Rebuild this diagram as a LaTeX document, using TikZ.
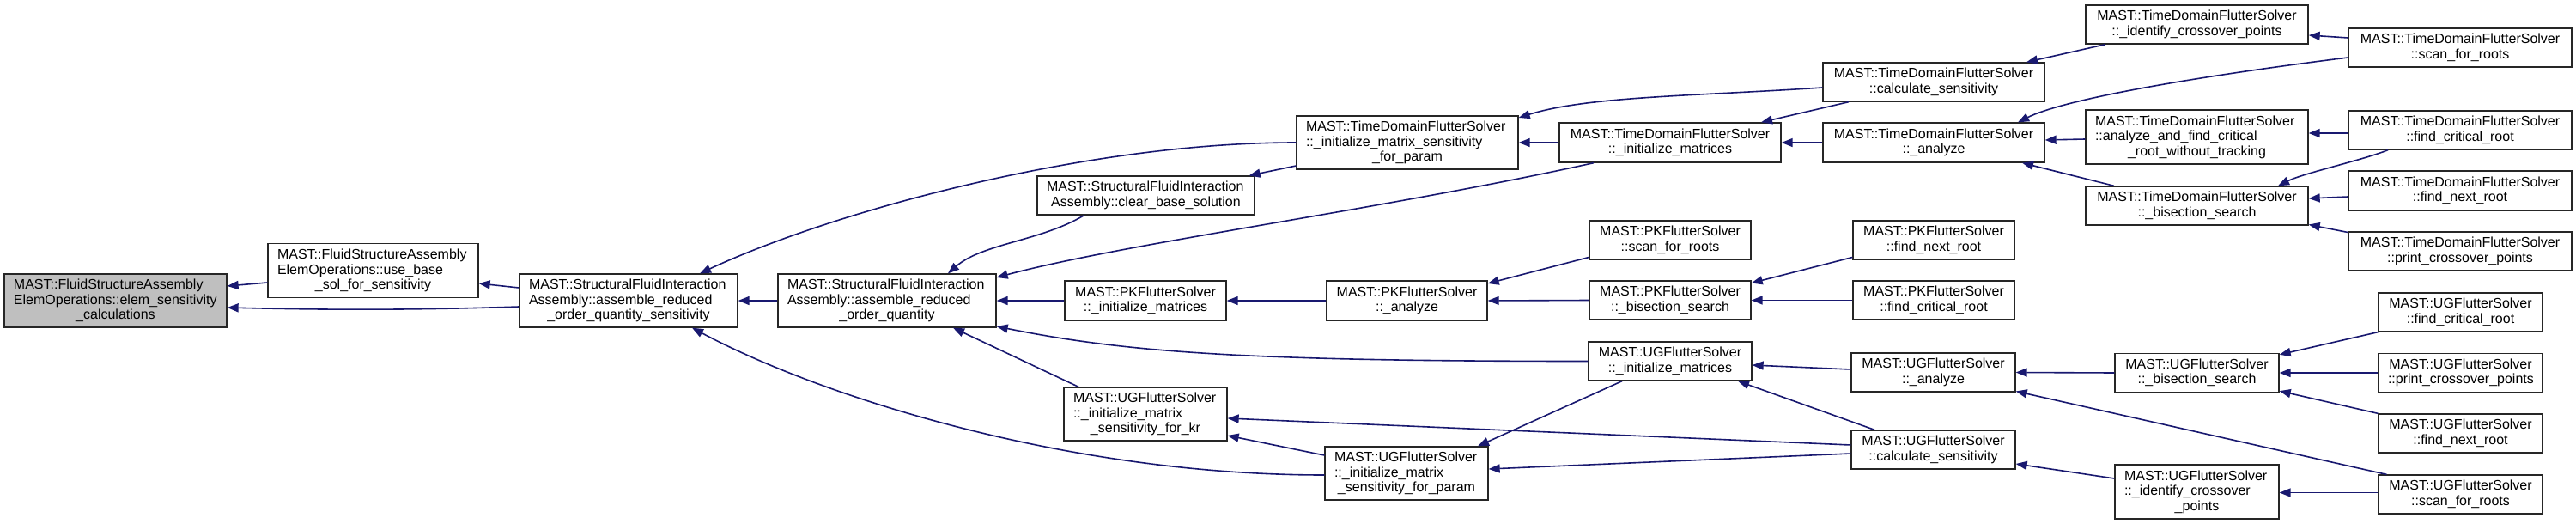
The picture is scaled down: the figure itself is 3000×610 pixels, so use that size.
\documentclass[tikz,border=0pt]{standalone}
\usepackage{fontspec}
\setmainfont{Liberation Sans}
\usetikzlibrary{arrows.meta,calc}
\definecolor{edgeblue}{HTML}{191970}
\definecolor{nodegray}{HTML}{BFBFBF}
\newcommand\lline[1]{\makebox[\linewidth][l]{#1}}
\newcommand\dxbox[7][white]{\node[dbox,fill=#1,minimum width=#5pt,minimum height=#6pt,text width=\the\numexpr#5-22\relax pt] (#2) at (#3,#4) {#7};}
\tikzset{
  dbox/.style={draw=black!85,line width=1.3pt,inner sep=0pt,align=center,font=\fontsize{16pt}{17.5pt}\selectfont},
  e/.style={draw=edgeblue,line width=1.6pt,-{Triangle[length=13pt,width=10pt]}}
}
\begin{document}
\begin{tikzpicture}[x=1pt,y=-1pt]
\fill[white] (0,0) rectangle (3000,610);
\useasboundingbox (0,0) rectangle (3000,610);
% column 0-3
\dxbox[nodegray]{elem}{134.5}{350}{259}{62}{\lline{MAST::FluidStructureAssembly}\\\lline{ElemOperations::elem\_sensitivity}\\\_calculations}
\dxbox{use}{434.5}{315}{245}{63}{\lline{MAST::FluidStructureAssembly}\\\lline{ElemOperations::use\_base}\\\_sol\_for\_sensitivity}
\dxbox{aroqs}{732}{350}{254}{62}{\lline{MAST::StructuralFluidInteraction}\\\lline{Assembly::assemble\_reduced}\\\_order\_quantity\_sensitivity}
\dxbox{aroq}{1033}{350}{254}{62}{\lline{MAST::StructuralFluidInteraction}\\\lline{Assembly::assemble\_reduced}\\\_order\_quantity}
% column 4
\dxbox{clear}{1334.5}{227.5}{253}{45}{\lline{MAST::StructuralFluidInteraction}\\Assembly::clear\_base\_solution}
\dxbox{pkinit}{1334}{350}{188}{46}{MAST::PKFlutterSolver\\::\_initialize\_matrices}
\dxbox{ugkr}{1334}{482}{190}{62}{\lline{MAST::UGFlutterSolver}\\\lline{::\_initialize\_matrix}\\\_sensitivity\_for\_kr}
% column 5
\dxbox{tdparam}{1639}{166}{258}{62}{\lline{MAST::TimeDomainFlutterSolver}\\\lline{::\_initialize\_matrix\_sensitivity}\\\_for\_param}
\dxbox{pkan}{1638.5}{350}{187}{46}{MAST::PKFlutterSolver\\::\_analyze}
\dxbox{ugparam}{1638}{551}{190}{62}{\lline{MAST::UGFlutterSolver}\\\lline{::\_initialize\_matrix}\\\_sensitivity\_for\_param}
% column 6
\dxbox{tdinit}{1945}{166}{258}{46}{MAST::TimeDomainFlutterSolver\\::\_initialize\_matrices}
\dxbox{pkscan}{1945}{279.5}{188}{45}{MAST::PKFlutterSolver\\::scan\_for\_roots}
\dxbox{pkbis}{1945}{349.5}{188}{45}{MAST::PKFlutterSolver\\::\_bisection\_search}
\dxbox{uginit}{1945}{420.5}{190}{45}{MAST::UGFlutterSolver\\::\_initialize\_matrices}
% column 7
\dxbox{tdcalc}{2252}{95.5}{258}{45}{MAST::TimeDomainFlutterSolver\\::calculate\_sensitivity}
\dxbox{tdan}{2252}{166}{258}{46}{MAST::TimeDomainFlutterSolver\\::\_analyze}
\dxbox{pknext}{2252}{279.5}{188}{45}{MAST::PKFlutterSolver\\::find\_next\_root}
\dxbox{pkcrit}{2252}{349.5}{188}{45}{MAST::PKFlutterSolver\\::find\_critical\_root}
\dxbox{ugan}{2251.5}{433.5}{191}{45}{MAST::UGFlutterSolver\\::\_analyze}
\dxbox{ugcalc}{2251.5}{523.5}{191}{45}{MAST::UGFlutterSolver\\::calculate\_sensitivity}
% column 8
\dxbox{tdident}{2558.5}{28.5}{259}{45}{MAST::TimeDomainFlutterSolver\\::\_identify\_crossover\_points}
\dxbox{tdaf}{2558.5}{159.5}{259}{63}{\lline{MAST::TimeDomainFlutterSolver}\\\lline{::analyze\_and\_find\_critical}\\\_root\_without\_tracking}
\dxbox{tdbis}{2558.5}{239.5}{259}{45}{MAST::TimeDomainFlutterSolver\\::\_bisection\_search}
\dxbox{ugbis}{2558.5}{434}{191}{45}{MAST::UGFlutterSolver\\::\_bisection\_search}
\dxbox{ugident}{2558.5}{572.5}{191}{63}{\lline{MAST::UGFlutterSolver}\\\lline{::\_identify\_crossover}\\\_points}
% column 9
\dxbox{tdscan}{2865}{55.5}{260}{45}{MAST::TimeDomainFlutterSolver\\::scan\_for\_roots}
\dxbox{tdcrit}{2865}{151.5}{260}{45}{MAST::TimeDomainFlutterSolver\\::find\_critical\_root}
\dxbox{tdnext}{2865}{222}{260}{46}{MAST::TimeDomainFlutterSolver\\::find\_next\_root}
\dxbox{tdprint}{2865}{292.5}{260}{45}{MAST::TimeDomainFlutterSolver\\::print\_crossover\_points}
\dxbox{ugcrit}{2865.5}{363.5}{191}{45}{MAST::UGFlutterSolver\\::find\_critical\_root}
\dxbox{ugprint}{2865.5}{434}{191}{45}{MAST::UGFlutterSolver\\::print\_crossover\_points}
\dxbox{ugnext}{2865.5}{504.5}{191}{45}{MAST::UGFlutterSolver\\::find\_next\_root}
\dxbox{ugscan}{2865.5}{575.5}{191}{45}{MAST::UGFlutterSolver\\::scan\_for\_roots}
% edges
\draw[e] ($(use.west)+(0,14)$) -- ($(elem.east)+(0,-17)$);
\draw[e] ($(aroqs.west)+(0,7)$) .. controls +(-120,4) and +(120,3) .. ($(elem.east)+(0,8)$);
\draw[e] ($(aroqs.west)+(0,-15)$) -- ($(use.east)+(0,15)$);
\draw[e] (aroq.west) -- (aroqs.east);
\draw[e] (tdparam.west) .. controls +(-250,0) and +(150,-70) .. ($(aroqs.north)+(83,0)$);
\draw[e] ($(ugparam.west)+(0,2)$) .. controls +(-300,0) and +(150,80) .. ($(aroqs.south)+(74,0)$);
\draw[e] ($(clear.south)+(-72,0)$) .. controls +(-50,30) and +(40,-35) .. ($(aroq.north)+(71,0)$);
\draw[e] ($(tdinit.south)+(-89,0)$) .. controls +(-250,55) and +(150,-40) .. ($(aroq.east)+(0,-27)$);
\draw[e] (pkinit.west) -- (aroq.east);
\draw[e] (uginit.west) .. controls +(-400,0) and +(150,30) .. ($(aroq.east)+(0,30)$);
\draw[e] ($(ugkr.north)+(-78,0)$) -- ($(aroq.south)+(77,0)$);
\draw[e] ($(tdparam.west)+(0,27)$) -- ($(clear.north east)+(-7,0)$);
\draw[e] (tdinit.west) -- (tdparam.east);
\draw[e] ($(tdcalc.west)+(0,6.5)$) .. controls +(-150,10) and +(80,-25) .. ($(tdparam.east)+(0,-29)$);
\draw[e] (pkan.west) -- (pkinit.east);
\draw[e] ($(ugparam.west)+(0,-21)$) -- ($(ugkr.east)+(0,25)$);
\draw[e] ($(ugcalc.west)+(0,-5.5)$) -- ($(ugkr.east)+(0,5)$);
\draw[e] ($(uginit.south)+(-56,0)$) -- ($(ugparam.north)+(83,0)$);
\draw[e] ($(ugcalc.west)+(0,4.5)$) -- ($(ugparam.east)+(0,-5)$);
\draw[e] ($(tdcalc.south)+(-99,0)$) -- ($(tdinit.north)+(106,0)$);
\draw[e] (tdan.west) -- (tdinit.east);
\draw[e] ($(pkscan.west)+(0,20)$) -- ($(pkan.east)+(0,-20)$);
\draw[e] (pkbis.west) -- (pkan.east);
\draw[e] ($(ugan.west)+(0,-3.5)$) -- ($(uginit.east)+(0,4.5)$);
\draw[e] ($(ugcalc.north)+(-68.5,0)$) -- ($(uginit.south)+(79,0)$);
\draw[e] ($(pknext.west)+(0,20)$) -- ($(pkbis.east)+(0,-20)$);
\draw[e] (pkcrit.west) -- (pkbis.east);
\draw[e] ($(tdident.south)+(-106.5,0)$) -- ($(tdcalc.north)+(108,0)$);
\draw[e] ($(tdscan.west)+(0,11.5)$) .. controls +(-200,25) and +(50,-25) .. ($(tdan.north)+(98,0)$);
\draw[e] ($(tdaf.west)+(0,2.5)$) -- ($(tdan.east)+(0,-3)$);
\draw[e] ($(tdbis.north)+(-96.5,0)$) -- ($(tdan.south)+(103,0)$);
\draw[e] ($(tdscan.west)+(0,-11.5)$) -- ($(tdident.east)+(0,12.5)$);
\draw[e] ($(tdcrit.west)+(0,3.5)$) -- ($(tdaf.east)+(0,-4.5)$);
\draw[e] ($(tdcrit.south)+(-84,0)$) .. controls +(-30,12) and +(30,-15) .. ($(tdbis.north)+(94.5,0)$);
\draw[e] ($(tdnext.west)+(0,7)$) -- ($(tdbis.east)+(0,-8.5)$);
\draw[e] ($(tdprint.west)+(0,-22)$) -- ($(tdbis.east)+(0,22)$);
\draw[e] (ugbis.west) -- (ugan.east);
\draw[e] ($(ugscan.north)+(-86,0)$) -- ($(ugan.east)+(0,22)$);
\draw[e] ($(ugident.west)+(0,-15.5)$) -- ($(ugcalc.east)+(0,16.5)$);
\draw[e] ($(ugcrit.south west)+(0,0)$) -- ($(ugbis.north east)+(0,2)$);
\draw[e] (ugprint.west) -- (ugbis.east);
\draw[e] (ugnext.north west) -- ($(ugbis.south east)+(0,-2)$);
\draw[e] ($(ugscan.west)+(0,-2)$) -- ($(ugident.east)+(0,1)$);
\end{tikzpicture}
\end{document}
